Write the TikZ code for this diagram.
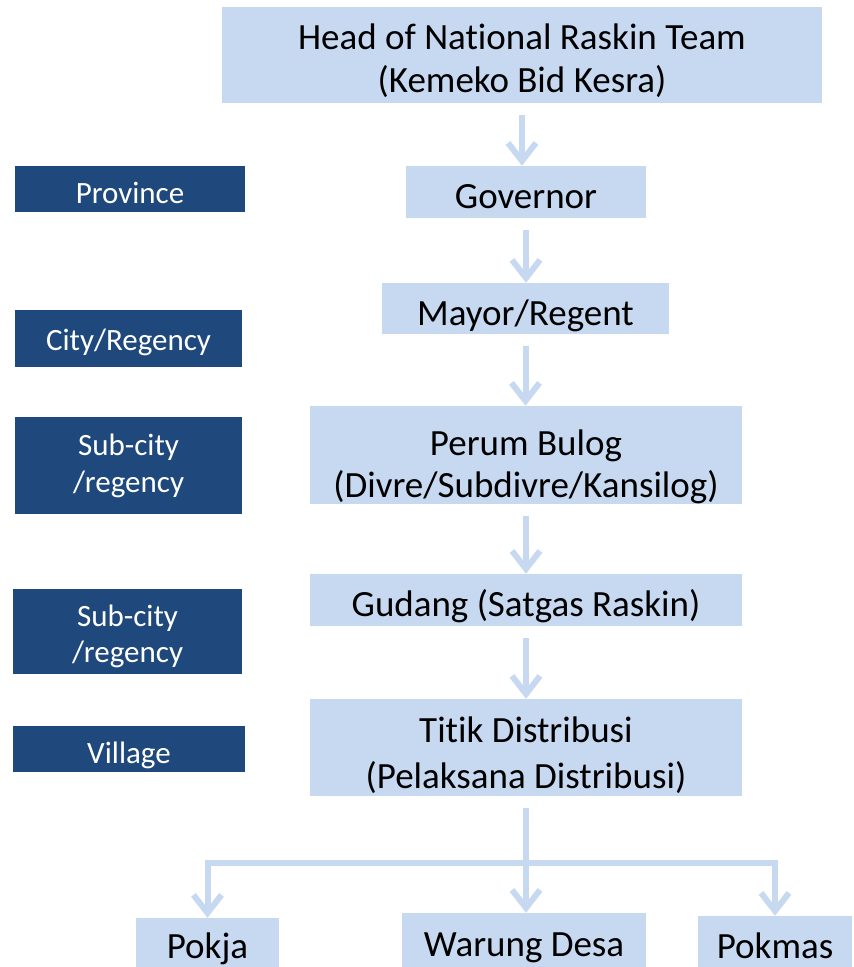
\documentclass[tikz,border=0pt]{standalone}
\usepackage{fontspec}
\setmainfont{Carlito}[Ligatures=NoCommon]
\usetikzlibrary{arrows.meta}
\definecolor{unitblue}{HTML}{C6D9F1}
\definecolor{levelblue}{HTML}{1F497D}
\tikzset{
  unit/.style={fill=unitblue, inner sep=0pt, align=center, text height=33pt, text depth=0pt,
    font=\fontsize{37}{42}\selectfont},
  level/.style={fill=levelblue, text=white, inner sep=0pt, align=center, text height=28pt, text depth=0pt,
    font=\fontsize{31}{36}\selectfont},
  flow/.style={draw=unitblue, line width=6pt, -{Straight Barb[length=18pt,width=28pt]}},
}
\begin{document}
\begin{tikzpicture}[x=1pt,y=-1pt]
  \useasboundingbox (0,0) rectangle (854,967);
  % chain of units
  \node[unit, minimum width=600, minimum height=96, text height=76pt, text depth=2pt] (head) at (522,55) {Head of National Raskin Team\\[1pt](Kemeko Bid Kesra)};
  \node[unit, minimum width=240, minimum height=52] (gov) at (526,192) {Governor};
  \node[unit, minimum width=287, minimum height=51] (mayor) at (525.5,308.5) {Mayor/Regent};
  \node[unit, minimum width=432, minimum height=98, text height=84pt] (bulog) at (526,455) {Perum Bulog\\(Divre/Subdivre/Kansilog)};
  \node[unit, minimum width=432, minimum height=52] (gudang) at (526,600) {Gudang (Satgas Raskin)};
  \node[unit, minimum width=432, minimum height=97, text height=81pt] (titik) at (526,747.5) {Titik Distribusi\\[4pt](Pelaksana Distribusi)};
  \node[unit, minimum width=143, minimum height=54, text height=27pt] (pokja) at (207.5,945) {Pokja};
  \node[unit, minimum width=244, minimum height=54] (warung) at (524,940) {Warung Desa};
  \node[unit, minimum width=154, minimum height=54, text height=31pt] (pokmas) at (775,943) {Pokmas};
  % levels
  \node[level, minimum width=230, minimum height=46] (prov) at (130,189) {Province};
  \node[level, minimum width=227, minimum height=57, text height=24pt] (city) at (128.5,338.5) {City/Regency};
  \node[level, minimum width=227, minimum height=97, text height=53pt] (subA) at (128.5,465.5) {Sub-city\\[1pt]/regency};
  \node[level, minimum width=229, minimum height=85, text height=61pt] (subB) at (127.5,631.5) {Sub-city\\/regency};
  \node[level, minimum width=232, minimum height=46] (village) at (129,749) {Village};
  % arrows
  \draw[flow, shorten <=12pt] (head.south) -- (head.south |- gov.north);
  \draw[flow, shorten <=12pt] (gov.south) -- (gov.south |- mayor.north);
  \draw[flow, shorten <=12pt] (mayor.south) -- (mayor.south |- bulog.north);
  \draw[flow, shorten <=12pt] (bulog.south) -- (bulog.south |- gudang.north);
  \draw[flow, shorten <=12pt] (gudang.south) -- (gudang.south |- titik.north);
  \draw[flow, shorten <=12pt] (titik.south) -- (titik.south |- warung.north);
  \coordinate (split) at (526,863);
  \draw[flow] (split) -| (pokja.north);
  \draw[flow] (split) -| (pokmas.north);
\end{tikzpicture}
\end{document}
